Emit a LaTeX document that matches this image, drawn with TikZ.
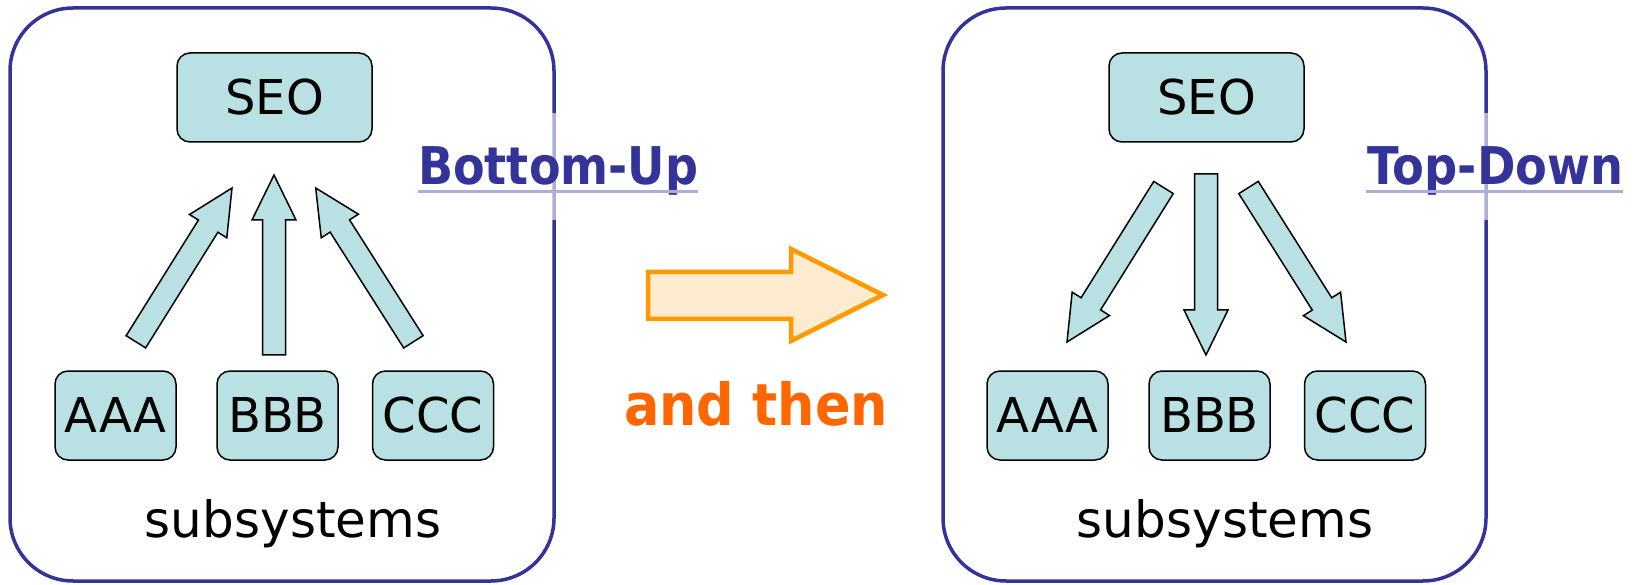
\documentclass[tikz,border=0pt]{standalone}
\usepackage{fontspec}
\setmainfont{DejaVu Sans}
\usetikzlibrary{calc}
\definecolor{frameblue}{HTML}{333399}
\definecolor{boxfill}{HTML}{B9E0E3}
\definecolor{orangeline}{HTML}{FF9900}
\definecolor{orangefill}{HTML}{FFEBCF}
\definecolor{thenorange}{HTML}{FF6600}
\definecolor{ulblue}{HTML}{ADADD6}
\tikzset{
  frame/.style={draw=frameblue, line width=3.5pt, rounded corners=63pt},
  sysbox/.style={draw=black, fill=boxfill, line width=1.5pt, rounded corners=13pt,
    minimum width=121pt, minimum height=89pt, inner sep=0pt,
    font=\fontsize{48}{56}\selectfont},
  seobox/.style={sysbox, minimum width=195pt},
  fatarrowstyle/.style={draw=black, fill=boxfill, line width=1.5pt, line join=miter},
  caption/.style={font=\fontsize{50}{60}\selectfont, inner sep=0pt},
  modelabel/.style={text=frameblue, font=\fontsize{52}{60}\selectfont\bfseries, inner sep=0pt},
  underline/.style={draw=ulblue, line width=3pt},
  veil/.style={fill=white, fill opacity=0.6},
  bigarrow/.style={draw=orangeline, fill=orangefill, line width=4.5pt, line join=miter},
  thenlabel/.style={text=thenorange, font=\fontsize{58}{66}\selectfont\bfseries, inner sep=0pt}
}
\newcommand{\fatarrow}[2]{%
  \coordinate (faM) at ($(#2)!45pt!(#1)$);
  \draw[fatarrowstyle] ($(#1)!11.5pt!90:(#2)$) -- ($(faM)!11.5pt!90:(#2)$)
    -- ($(faM)!22pt!90:(#2)$) -- (#2) -- ($(faM)!22pt!-90:(#2)$)
    -- ($(faM)!11.5pt!-90:(#2)$) -- ($(#1)!11.5pt!-90:(#2)$) -- cycle;
}
\begin{document}
\begin{tikzpicture}[x=1pt,y=-1pt]
\useasboundingbox (0,0) rectangle (1639,585);

% ---------------- left panel: Bottom-Up ----------------
\draw[frame] (10,8) rectangle (554,581);
\node[seobox] (seoL) at (274.5,97.5) {SEO};
\node[sysbox] (aL) at (115.5,415.5) {AAA};
\node[sysbox] (bL) at (277.5,415.5) {BBB};
\node[sysbox] (cL) at (433,415.5) {CCC};
\node[caption, anchor=base] (subL) at (293,537) {subsystems};

\coordinate (L1t) at (135.9,341.8); \coordinate (L1h) at (232,188);
\coordinate (L2t) at (274,355);     \coordinate (L2h) at (274,175);
\coordinate (L3t) at (413.4,341.8); \coordinate (L3h) at (315.7,188);
\fatarrow{L1t}{L1h}
\fatarrow{L2t}{L2h}
\fatarrow{L3t}{L3h}

\fill[veil] (418,113) rectangle (698,220);
\node[modelabel, anchor=base west] (bu) at (418,185) {\resizebox{280pt}{\height}{Bottom-Up}};
\draw[underline] (418,192) -- (698,192);

% ---------------- middle: and then ----------------
\draw[bigarrow] (648,272) -- (791,272) -- (791,249) -- (883,295) -- (791,341)
  -- (791,319) -- (648,319) -- cycle;
\node[thenlabel, anchor=base] (then) at (756,425) {\resizebox{264pt}{\height}{and then}};

% ---------------- right panel: Top-Down ----------------
\draw[frame] (943,8) rectangle (1486,581);
\node[seobox] (seoR) at (1206.5,97.5) {SEO};
\node[sysbox] (aR) at (1047.5,415.5) {AAA};
\node[sysbox] (bR) at (1209.5,415.5) {BBB};
\node[sysbox] (cR) at (1365,415.5) {CCC};
\node[caption, anchor=base] (subR) at (1225,537) {subsystems};

\coordinate (R1t) at (1163.5,187.5); \coordinate (R1h) at (1067,342);
\coordinate (R2t) at (1206,174);     \coordinate (R2h) at (1206,355);
\coordinate (R3t) at (1248.5,187.5); \coordinate (R3h) at (1346,342);
\fatarrow{R1t}{R1h}
\fatarrow{R2t}{R2h}
\fatarrow{R3t}{R3h}

\fill[veil] (1366,113) rectangle (1623,220);
\node[modelabel, anchor=base west] (td) at (1367,185) {\resizebox{256pt}{\height}{Top-Down}};
\draw[underline] (1366,192) -- (1623,192);
\end{tikzpicture}
\end{document}
